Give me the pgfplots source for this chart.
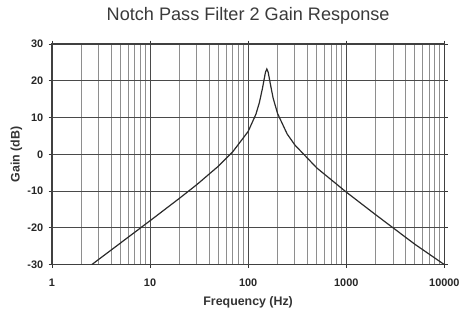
\documentclass[border=0pt]{standalone}
\usepackage{fontspec}
\setmainfont{Liberation Sans}
\usepackage{pgfplots}
\pgfplotsset{compat=1.18}
\definecolor{curvec}{HTML}{2B2B2B}
\definecolor{majg}{HTML}{4A4A4A}
\definecolor{ming}{HTML}{8E8E8E}
\definecolor{titlec}{HTML}{3A3A3A}
\begin{document}
\begin{tikzpicture}
\begin{axis}[
  scale only axis,
  width=294.75pt, height=165.75pt,
  xmode=log, log basis x=10,
  xmin=1, xmax=10000, ymin=-30, ymax=30,
  xtick={1,10,100,1000,10000},
  xticklabels={1,10,100,1000,10000},
  minor xtick={2,3,4,5,6,7,8,9,20,30,40,50,60,70,80,90,200,300,400,500,600,700,800,900,2000,3000,4000,5000,6000,7000,8000,9000},
  ytick={-30,-20,-10,0,10,20,30},
  /pgf/number format/assume math mode=true,
  xmajorgrids, xminorgrids, ymajorgrids,
  major grid style={majg, line width=0.7pt},
  minor grid style={ming, line width=0.7pt},
  minor tick length=0pt,
  major tick length=2.5pt,
  tick align=outside,
  tick style={black!80, line width=0.6pt},
  axis line style={black!75, line width=0.9pt},
  ticklabel style={font=\fontsize{8.2}{9}\selectfont\bfseries, text=black!85},
  xticklabel style={yshift=-5pt},
  yticklabel style={xshift=-0.5pt},
  xlabel={Frequency (Hz)},
  ylabel={Gain (dB)},
  label style={font=\fontsize{9.3}{10}\selectfont\bfseries, text=black!80},
  xlabel style={yshift=-0.5pt},
  ylabel style={yshift=-3pt},
  title={Notch Pass Filter 2 Gain Response},
  title style={font=\fontsize{13.6}{15}\selectfont, text=titlec, yshift=5pt},
  clip=true,
]
\addplot[curvec, line width=0.9pt] coordinates {
(2.55,-30) (3,-28.56) (5,-24.12) (10,-18.07) (20,-11.94) (30,-8.24)
(50,-3.18) (70,0.75) (100,6.2) (120,10.9) (130,14.0) (140,17.97)
(150,22.26) (155,23.2) (160,22.31) (170,18.54) (180,15.2) (200,11.0)
(250,5.5) (300,2.5) (500,-3.70) (1000,-10.28) (2000,-16.46)
(5000,-24.46) (10000,-30)
};
\end{axis}
\path ([xshift=-39pt,yshift=-38.25pt]current axis.south west) rectangle ([xshift=14.25pt,yshift=33pt]current axis.north east);
\end{tikzpicture}
\end{document}
